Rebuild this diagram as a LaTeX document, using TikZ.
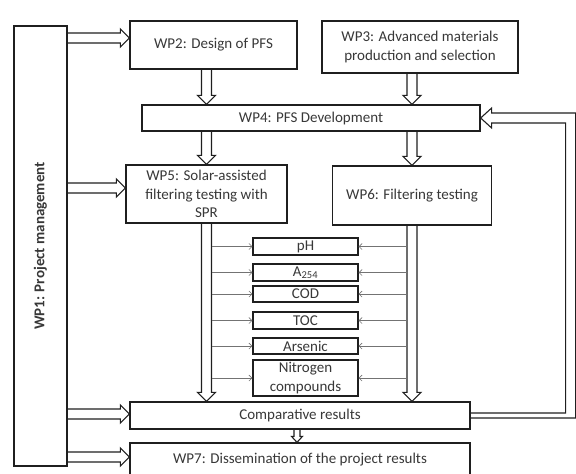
\documentclass[tikz,border=0pt]{standalone}
\usepackage{fontspec}
\setmainfont{Carlito}
\usetikzlibrary{calc,arrows.meta}
\definecolor{linec}{gray}{0.12}
\definecolor{textc}{gray}{0.22}
\definecolor{thinc}{gray}{0.45}
\newcommand\myfs{\fontsize{15}{18.5}\selectfont}
\begin{document}
\begin{tikzpicture}[x=1pt,y=-1pt,
  box/.style={draw=linec, line width=1.3pt, fill=white, text=textc, inner sep=0pt, align=center, font=\myfs},
  sbox/.style={box, minimum width=105, minimum height=17},
  hol/.style={draw=linec, line width=1.1pt, line join=miter},
  sh/.store in=\arrsh, hh/.store in=\arrhh, hl/.store in=\arrhl,
  sh=5, hh=9, hl=9,
  darr/.style={to path={($(\tikztostart)+(-\arrsh,0)$) -- ($(\tikztotarget)+(-\arrsh,-\arrhl)$) -- ($(\tikztotarget)+(-\arrhh,-\arrhl)$) -- (\tikztotarget) -- ($(\tikztotarget)+(\arrhh,-\arrhl)$) -- ($(\tikztotarget)+(\arrsh,-\arrhl)$) -- ($(\tikztostart)+(\arrsh,0)$)}},
  rarr/.style={to path={($(\tikztostart)+(0,-\arrsh)$) -- ($(\tikztotarget)+(-\arrhl,-\arrsh)$) -- ($(\tikztotarget)+(-\arrhl,-\arrhh)$) -- (\tikztotarget) -- ($(\tikztotarget)+(-\arrhl,\arrhh)$) -- ($(\tikztotarget)+(-\arrhl,\arrsh)$) -- ($(\tikztostart)+(0,\arrsh)$)}},
  thinarr/.style={draw=thinc, line width=0.6pt, -{Straight Barb[length=3pt,width=6pt]}}
]
\useasboundingbox (0,0) rectangle (576,474);
\clip (0,0) rectangle (576,474);

% nodes
\node[box, minimum width=53, minimum height=440] (wp1) at (40.5,246) {};
\node[rotate=90, text=textc, font=\myfs\bfseries] (wp1t) at (wp1) {WP1: Project management};
\node[box, minimum width=167, minimum height=48] (wp2) at (213.5,45) {WP2: Design of PFS};
\node[box, minimum width=196, minimum height=52] (wp3) at (420,47) {WP3: Advanced materials\\production and selection};
\node[box, minimum width=338, minimum height=26] (wp4) at (311,118) {WP4: PFS Development};
\node[box, minimum width=161, minimum height=58] (wp5) at (206.5,194) {WP5: Solar-assisted\\filtering testing with\\SPR};
\node[box, minimum width=159, minimum height=59] (wp6) at (412,195.5) {WP6: Filtering testing};
\node[sbox] (ph) at (305.5,246.5) {pH};
\node[sbox] (a254) at (305.5,272.5) {A\textsubscript{254}};
\node[sbox, minimum height=16] (cod) at (305.5,294) {COD};
\node[sbox] (toc) at (305.5,320.5) {TOC};
\node[sbox, minimum height=16] (ars) at (305.5,346) {Arsenic};
\node[sbox, minimum height=36] (nit) at (305.5,378) {Nitrogen\\compounds};
\node[box, minimum width=340, minimum height=27] (comp) at (300,415.5) {Comparative results};
\node[box, minimum width=340, minimum height=34] (wp7) at (300,460) {WP7: Dissemination of the project results};

% helper coordinates
\coordinate (y1) at (0,38);
\coordinate (y2) at (0,188);
\coordinate (y3) at (0,414);
\coordinate (y4) at (0,457);
\coordinate (lsh) at (211.5,0);
\coordinate (rsh) at (407,0);
\coordinate (xs) at (297,0);

% WP1 arrows
\draw[hol] (wp1.east |- y1) to[rarr] (wp2.west |- y1);
\draw[hol] (wp1.east |- y2) to[rarr] (wp5.west |- y2);
\draw[hol] (wp1.east |- y3) to[rarr] (comp.west |- y3);
\draw[hol] (wp1.east |- y4) to[rarr] (wp7.west |- y4);

% vertical arrows
\draw[hol] (wp2.south -| wp5) to[darr] (wp4.north -| wp5);
\draw[hol] (wp3.south -| wp6) to[darr] (wp4.north -| wp6);
\draw[hol] (wp4.south -| wp5) to[darr] (wp5.north);
\draw[hol] (wp4.south -| wp6) to[darr] (wp6.north);
\draw[hol] (wp5.south) to[darr] (comp.north -| wp5);
\draw[hol] (wp6.south) to[darr] (comp.north -| wp6);
\draw[hol, sh=3, hh=5.5, hl=6] (comp.south -| xs) to[darr] (wp7.north -| xs);

% feedback loop
\draw[hol] ($(comp.east)+(0,-2.5)$) -- ($(comp.east)+(95,-2.5)$) -- ($(wp4.east)+(85,5)$)
  -- ($(wp4.east)+(11,5)$) -- ($(wp4.east)+(11,10)$) -- (wp4.east)
  -- ($(wp4.east)+(11,-10)$) -- ($(wp4.east)+(11,-5)$) -- ($(wp4.east)+(95,-5)$)
  -- ($(comp.east)+(105,2.5)$) -- ($(comp.east)+(0,2.5)$);

% thin arrows
\foreach \b in {ph,a254,cod,toc,ars,nit}{
  \draw[thinarr] (\b.west -| lsh) -- (\b.west);
  \draw[thinarr] (\b.east -| rsh) -- (\b.east);
}
\end{tikzpicture}
\end{document}
